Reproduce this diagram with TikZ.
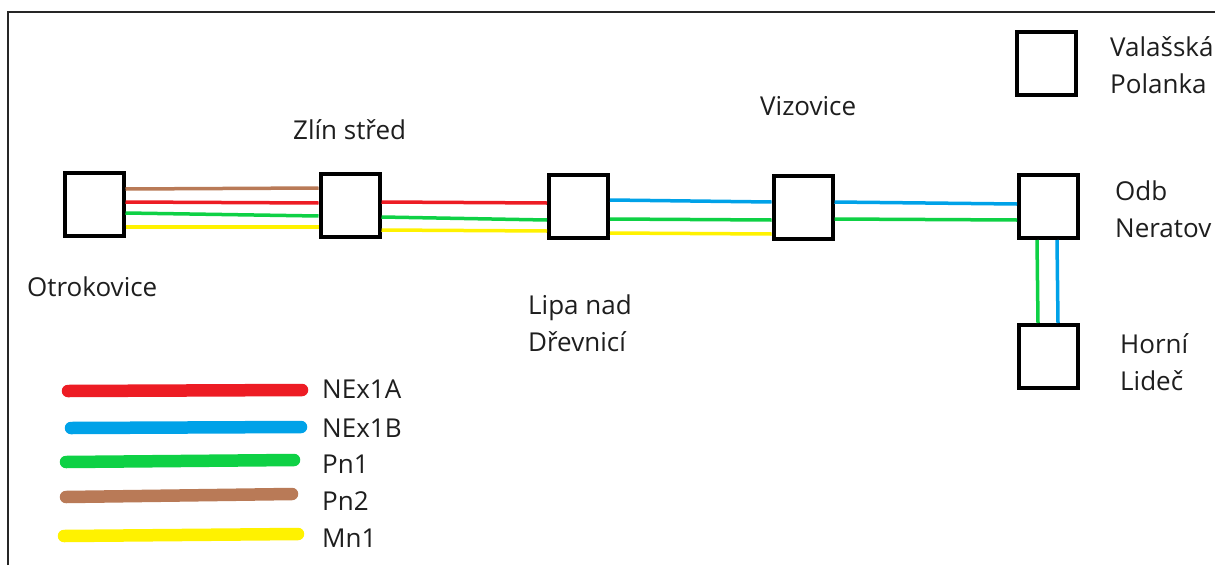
\documentclass[tikz,border=0pt]{standalone}
\usepackage{fontspec}
\setmainfont{Open Sans}
\definecolor{cred}{HTML}{ED1C24}
\definecolor{cblue}{HTML}{00A2E8}
\definecolor{cgreen}{HTML}{0ED145}
\definecolor{cbrown}{HTML}{B97A57}
\definecolor{cyellow}{HTML}{FFF200}
\definecolor{ctext}{HTML}{1E1E1E}
\begin{document}
\begin{tikzpicture}[x=1pt,y=-1pt,
  station/.style={draw=black,line width=4pt,minimum width=59pt,minimum height=63pt,inner sep=0pt,fill=white},
  lbl/.style={anchor=base west,inner sep=0pt,align=left,text=ctext,font=\fontsize{26}{37}\selectfont},
  track/.style={line width=3.5pt},
  key/.style={line width=12.5pt,line cap=round}]
\useasboundingbox (0,0) rectangle (1215,565);
\fill[white] (0,0) rectangle (1215,565);
\draw[line width=2pt,black!85] (8,565) -- (8,12) -- (1215,12);

\node[station] (otr) at (94,204.5) {};
\node[station] (zlin) at (350,205.5) {};
\node[station] (lipa) at (578.5,206) {};
\node[station] (viz) at (803,207.5) {};
\node[station] (ner) at (1048.5,206.5) {};
\node[station] (hor) at (1048.5,356.5) {};
\node[station] (val) at (1046,63.5) {};

\draw[track,cbrown] (otr.east |- 0,189) -- (zlin.west |- 0,188);
\draw[track,cred] (otr.east |- 0,202) -- (zlin.west |- 0,203);
\draw[track,cgreen] (otr.east |- 0,213) -- (zlin.west |- 0,216);
\draw[track,cyellow] (otr.east |- 0,227) -- (zlin.west |- 0,227);

\draw[track,cred] (zlin.east |- 0,202) -- (lipa.west |- 0,203);
\draw[track,cgreen] (zlin.east |- 0,217) -- (lipa.west |- 0,220);
\draw[track,cyellow] (zlin.east |- 0,230) -- (lipa.west |- 0,231);

\draw[track,cblue] (lipa.east |- 0,200) -- (viz.west |- 0,202);
\draw[track,cgreen] (lipa.east |- 0,219) -- (viz.west |- 0,220);
\draw[track,cyellow] (lipa.east |- 0,233) -- (viz.west |- 0,234);

\draw[track,cblue] (viz.east |- 0,202) -- (ner.west |- 0,204);
\draw[track,cgreen] (viz.east |- 0,219) -- (ner.west |- 0,220);

\draw[track,cgreen] (ner.south -| 1037,0) -- (hor.north -| 1038,0);
\draw[track,cblue] (ner.south -| 1057,0) -- (hor.north -| 1058,0);

% labels
\node[lbl] (lotr) at (27,296) {Otrokovice};
\node[lbl] (lzlin) at (293,139) {Zlín střed};
\node[lbl] (llipa) at (528,351) {Lipa nad\\Dřevnicí};
\node[lbl] (lviz) at (760,115) {Vizovice};
\node[lbl] (lval) at (1110,93) {Valašská\\Polanka};
\node[lbl] (lner) at (1115,237) {Odb\\Neratov};
\node[lbl] (lhor) at (1120,390) {Horní\\Lideč};

% legend
\draw[key,cred] (68,391) -- (302,390);
\draw[key,cblue] (71,428) -- (301,427);
\draw[key,cgreen] (66,462) -- (294,460);
\draw[key,cbrown] (66,497) -- (292,494);
\draw[key,cyellow] (64,536) -- (298,534);
\node[lbl] (k1) at (322,398) {NEx1A};
\node[lbl] (k2) at (322,437) {NEx1B};
\node[lbl] (k3) at (322,473) {Pn1};
\node[lbl] (k4) at (322,510) {Pn2};
\node[lbl] (k5) at (322,547) {Mn1};
\end{tikzpicture}
\end{document}
